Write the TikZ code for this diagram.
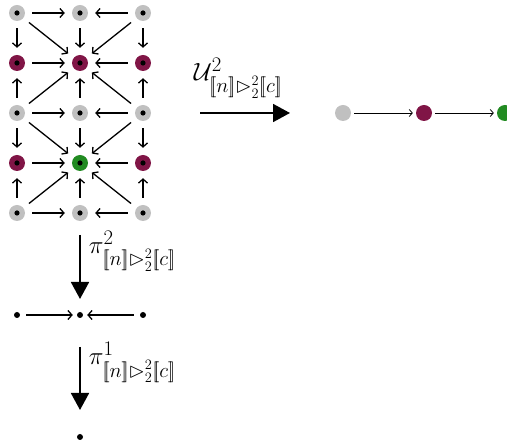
\documentclass[tikz,border=0pt]{standalone}
\usepackage{amsmath,amssymb}
\definecolor{vgray}{RGB}{192,192,192}
\definecolor{vmaroon}{RGB}{128,21,70}
\definecolor{vgreen}{RGB}{34,139,34}
\usetikzlibrary{arrows.meta,positioning,calc}

\begin{document}
\begin{tikzpicture}[x=1pt, y=-1pt,
    vtx/.style={circle, minimum size=16pt, inner sep=0pt, fill=#1,
                path picture={\fill[black] (path picture bounding box.center) circle (2.6pt);}},
    blob/.style={circle, minimum size=16pt, inner sep=0pt, fill=#1},
    pt/.style={circle, minimum size=6pt, inner sep=0pt, fill=black},
    arr/.style={-{Straight Barb[length=4pt,width=9pt]}, line width=1.3pt,
                shorten <=7pt, shorten >=7pt},
    tarr/.style={-{Straight Barb[length=3pt,width=7pt]}, line width=0.8pt,
                 shorten <=3pt, shorten >=3pt},
    big/.style={-{Triangle[length=17pt,width=18pt]}, line width=1.8pt},
    lbl/.style={font=\fontsize{30}{33}\selectfont, inner sep=0pt}
  ]
  \useasboundingbox (0,0) rectangle (507,443);

  % grid of vertices
  \foreach \c/\x in {0/17,1/80,2/143}{
    \foreach \r/\y in {0/13,2/113,4/213}{
      \node[vtx=vgray] (v\c\r) at (\x,\y) {};
    }
  }
  \foreach \c/\x in {0/17,2/143}{
    \foreach \r/\y in {1/63,3/163}{
      \node[vtx=vmaroon] (v\c\r) at (\x,\y) {};
    }
  }
  \node[vtx=vmaroon] (v11) at (80,63) {};
  \node[vtx=vgreen]  (v13) at (80,163) {};

  % horizontal and vertical arrows
  \foreach \r in {0,1,2,3,4}{
    \draw[arr] (v0\r) -- (v1\r);
    \draw[arr] (v2\r) -- (v1\r);
  }
  \foreach \c in {0,1,2}{
    \draw[arr] (v\c0) -- (v\c1);
    \draw[arr] (v\c2) -- (v\c1);
    \draw[arr] (v\c2) -- (v\c3);
    \draw[arr] (v\c4) -- (v\c3);
  }
  % diagonals
  \foreach \s/\t in {00/11,20/11,02/11,22/11,02/13,22/13,04/13,24/13}{
    \draw[arr] (v\s) -- (v\t);
  }

  % map to the chain
  \coordinate (ua) at (200,113);
  \coordinate (ub) at (290,113);
  \draw[big] (ua) -- (ub)
    node[midway, above=14pt, xshift=-7pt, lbl] {$\mathcal{U}^{2}_{[\![n]\!]\rhd^2_2[\![c]\!]}$};

  % chain
  \node[blob=vgray]   (r0) at (343,113) {};
  \node[blob=vmaroon] (r1) at (424,113) {};
  \node[blob=vgreen]  (r2) at (505,113) {};
  \draw[tarr] (r0) -- (r1);
  \draw[tarr] (r1) -- (r2);

  % first projection
  \coordinate (pa) at (80,235);
  \coordinate (pb) at (80,299);
  \draw[big] (pa) -- (pb)
    node[midway, right=8pt, yshift=16pt, lbl] {$\pi^{2}_{[\![n]\!]\rhd^2_2[\![c]\!]}$};

  \node[pt] (b0) at (17,315) {};
  \node[pt] (b1) at (80,315) {};
  \node[pt] (b2) at (143,315) {};
  \draw[arr, shorten <=6pt, shorten >=4pt] (b0) -- (b1);
  \draw[arr, shorten <=6pt, shorten >=4pt] (b2) -- (b1);

  % second projection
  \coordinate (qa) at (80,347);
  \coordinate (qb) at (80,410);
  \draw[big] (qa) -- (qb)
    node[midway, right=8pt, yshift=16pt, lbl] {$\pi^{1}_{[\![n]\!]\rhd^2_2[\![c]\!]}$};

  \node[pt] (e0) at (80,437) {};
\end{tikzpicture}
\end{document}
